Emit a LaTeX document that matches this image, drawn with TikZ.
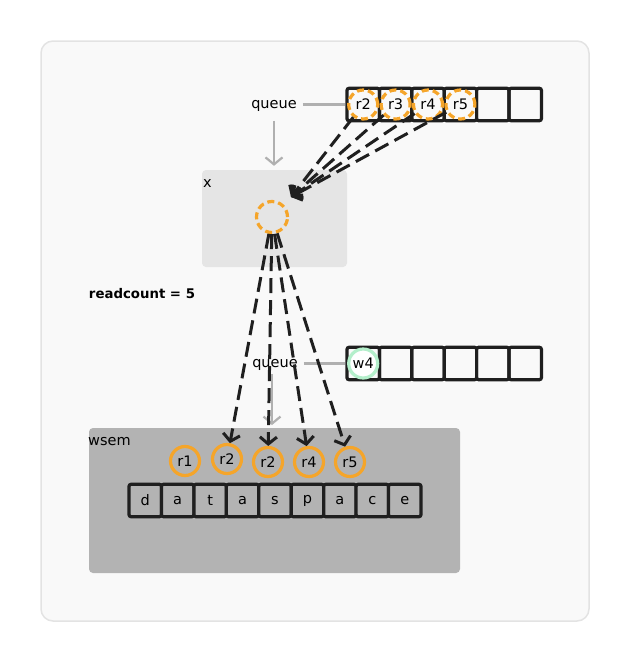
\documentclass[tikz,border=0pt]{standalone}
\usepackage{fontspec}
\setmainfont{DejaVu Sans}
\usetikzlibrary{arrows.meta}
\definecolor{rdorange}{HTML}{F5A52A}
\definecolor{wrgreen}{HTML}{B4EFCB}
\definecolor{panelbg}{HTML}{F9F9F9}
\definecolor{panelline}{HTML}{E3E3E3}
\definecolor{boxlight}{HTML}{E5E5E5}
\definecolor{boxdark}{HTML}{B3B3B3}
\definecolor{linkgray}{HTML}{B0B0B0}

\begin{document}
\begin{tikzpicture}[x=1pt,y=-1pt,
      every node/.style={font=\fontsize{14.5}{17}\selectfont,inner sep=1pt},
      cell/.style={draw=black!88,line width=3.2pt,rounded corners=2pt,
        minimum width=32.4pt,minimum height=32.4pt,inner sep=0pt},
      waitcirc/.style={circle,draw=rdorange,line width=3.2pt,
        dash pattern=on 7pt off 4pt,minimum size=29pt,inner sep=0pt},
      readcirc/.style={circle,draw=rdorange,line width=3.2pt,
        minimum size=29pt,inner sep=0pt},
      writecirc/.style={circle,draw=wrgreen,fill=white,line width=3.2pt,
        minimum size=29pt,inner sep=0pt},
      grantline/.style={draw=black!88,line width=3pt,
        dash pattern=on 15pt off 7pt,
        -{Straight Barb[length=7pt,width=17pt,line width=3pt]}},
      qlink/.style={draw=linkgray,line width=2.2pt},
      qarrow/.style={qlink,-{Straight Barb[length=7pt,width=17pt,line width=2.2pt]}}]
    \useasboundingbox (0,0) rectangle (630,662);
    \draw[panelline,fill=panelbg,line width=1.5pt,rounded corners=12pt]
      (41,41) rectangle (589,621);

    % mutex x
    \node[fill=boxlight,rounded corners=4pt,minimum width=145pt,
      minimum height=97pt] (xbox) at (274.5,218.5) {};
    \node[anchor=north west] (xlab) at (202,178) {x};
    \node[waitcirc,minimum size=31pt] (xc) at (272,217) {};

    % readers queue
    \foreach \i in {1,...,6}
      \node[cell] (q\i) at ({330.8+32.4*\i},104.5) {};
    \node[waitcirc] (qr2) at (q1) {r2};
    \node[waitcirc] (qr3) at (q2) {r3};
    \node[waitcirc] (qr4) at (q3) {r4};
    \node[waitcirc] (qr5) at (q4) {r5};
    \node (qlab) at (274,106) {queue};
    \draw[qlink,shorten <=5pt] (qlab.east |- q1) -- (q1.west);
    \draw[qarrow,shorten <=8pt,shorten >=4pt] (qlab.south) -- (qlab.south |- xbox.north);
    \coordinate (xin) at (291,197);
    \foreach \r in {qr2,qr3,qr4,qr5}
      \draw[grantline] (\r) -- (xin);

    \node[font=\fontsize{13.3}{16}\selectfont\bfseries] (rcount) at (142,294)
      {readcount = 5};

    % wsem
    \node[fill=boxdark,rounded corners=4pt,minimum width=371pt,
      minimum height=145pt] (wsem) at (274.5,500.5) {};
    \node[anchor=north west] (wlab) at (87,436) {wsem};
    \foreach \c [count=\i] in {d,a,t,a,s,p,a,c,e}
      \node[cell,fill=boxdark] (d\i) at ({112.8+32.44*\i},500.5) {\c};
    \node[readcirc] (wr1) at (185,461) {r1};
    \node[readcirc] (wr2) at (227,459) {r2};
    \node[readcirc] (wr2b) at (268,462) {r2};
    \node[readcirc] (wr4) at (309,462) {r4};
    \node[readcirc] (wr5) at (350,462) {r5};

    % writers queue
    \foreach \i in {1,...,6}
      \node[cell] (p\i) at ({330.8+32.4*\i},363.5) {};
    \node[writecirc] (pw4) at (p1) {w4};
    \node (qlab2) at (275,365) {queue};
    \draw[qlink,shorten <=5pt] (qlab2.east |- p1) -- (p1.west);
    \draw[qarrow,shorten <=9pt,shorten >=3pt] (272,365) -- (272,428);

    \draw[grantline] (xc) -- (wr2);
    \draw[grantline] (xc) -- (wr2b);
    \draw[grantline] (xc) -- (wr4);
    \draw[grantline] (xc) -- (wr5);
  \end{tikzpicture}
\end{document}
